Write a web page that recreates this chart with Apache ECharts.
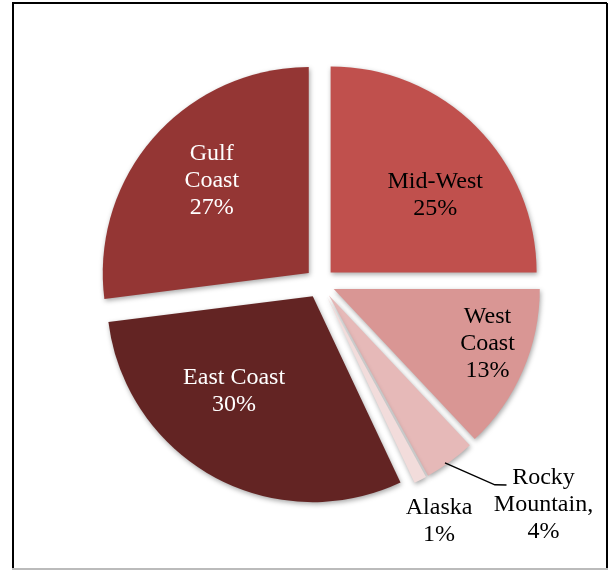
<!DOCTYPE html>
<html>
<head>
<meta charset="utf-8">
<script src="https://cdn.jsdelivr.net/npm/echarts@6/dist/echarts.min.js"></script>
<style>
html,body{margin:0;padding:0;background:#fff;}
#chart{width:610px;height:571px;}
</style>
</head>
<body>
<div id="chart"></div>
<script>
// ---- data ----
const categories = ['Mid-West', 'West Coast', 'Rocky Mountain', 'Alaska', 'East Coast', 'Gulf Coast'];
const labelNames = ['Mid-West', 'West\nCoast', 'Rocky\nMountain,', 'Alaska', 'East Coast', 'Gulf\nCoast'];
const percents = [25, 13, 4, 1, 30, 27];

// ---- styles ----
const colors = ['#C0504D', '#D99694', '#E6B9B8', '#F2DCDB', '#632423', '#943634'];
const textColors = ['#000', '#000', '#000', '#000', '#fff', '#fff'];
const showLeader = [false, false, true, false, false, false];
// label placement: distance from pie centre and angle (deg, clockwise from top)
const labelDist = [145, 178, 315, 266, 138, 149];
const labelAngle = [52.6, 109.8, 134.8, 153.4, 218.5, 313.4];
// leader line for Rocky Mountain: polar points [dist, angle]
const leaderPolar = [[219, 145.2], [267, 139.1], [275, 137.3]];

const CX = 320, CY = 283, R = 206, OFFSET = 15;
const FONT = '"Liberation Serif", "Times New Roman", serif';

function polar(d, angDeg) {
  const a = angDeg * Math.PI / 180;
  return [CX + d * Math.sin(a), CY - d * Math.cos(a)];
}

const chart = echarts.init(document.getElementById('chart'), null, {renderer: 'canvas'});

const sliceData = categories.map((c, i) => ({
  name: c,
  value: percents[i],
  selected: true,
  itemStyle: {color: colors[i]}
}));

const labelData = categories.map((c, i) => ({
  name: c,
  value: percents[i],
  label: {color: textColors[i], position: showLeader[i] ? 'outside' : 'inside'},
  labelLine: {show: showLeader[i]}
}));

chart.setOption({
  animation: false,
  backgroundColor: '#fff',
  graphic: [
    {type: 'line', shape: {x1: 12, y1: 3, x2: 607, y2: 3}, style: {stroke: '#000', lineWidth: 2}},
    {type: 'line', shape: {x1: 13, y1: 3, x2: 13, y2: 569}, style: {stroke: '#000', lineWidth: 2}},
    {type: 'line', shape: {x1: 607, y1: 3, x2: 607, y2: 569}, style: {stroke: '#000', lineWidth: 2}},
    {type: 'line', shape: {x1: 12, y1: 569, x2: 608, y2: 569}, style: {stroke: '#bbb', lineWidth: 2}}
  ],
  series: [{
    type: 'pie',
    center: [CX, CY],
    radius: [0, R],
    startAngle: 90,
    clockwise: true,
    selectedMode: 'multiple',
    selectedOffset: OFFSET,
    emphasis: {disabled: true},
    label: {show: false},
    labelLine: {show: false},
    itemStyle: {
      shadowBlur: 5,
      shadowColor: 'rgba(0,0,0,0.35)',
      shadowOffsetX: 1,
      shadowOffsetY: 2
    },
    data: sliceData
  }, {
    type: 'pie',
    z: 5,
    silent: true,
    center: [CX, CY],
    radius: [0, R],
    startAngle: 90,
    clockwise: true,
    selectedMode: false,
    avoidLabelOverlap: false,
    emphasis: {disabled: true},
    itemStyle: {color: 'rgba(0,0,0,0)', borderWidth: 0},
    label: {
      show: true,
      fontFamily: FONT,
      fontSize: 24,
      lineHeight: 27,
      align: 'center',
      formatter: p => labelNames[p.dataIndex] + '\n' + p.value + '%'
    },
    labelLine: {
      lineStyle: {color: '#000', width: 1.5},
      length: 20,
      length2: 10,
      smooth: false
    },
    labelLayout: function (p) {
      const i = p.dataIndex;
      const pos = polar(labelDist[i], labelAngle[i]);
      const out = {x: pos[0], y: pos[1], align: 'center', verticalAlign: 'middle'};
      if (showLeader[i]) {
        out.labelLinePoints = leaderPolar.map(q => polar(q[0], q[1]));
      }
      return out;
    },
    data: labelData
  }]
});
</script>
</body>
</html>
